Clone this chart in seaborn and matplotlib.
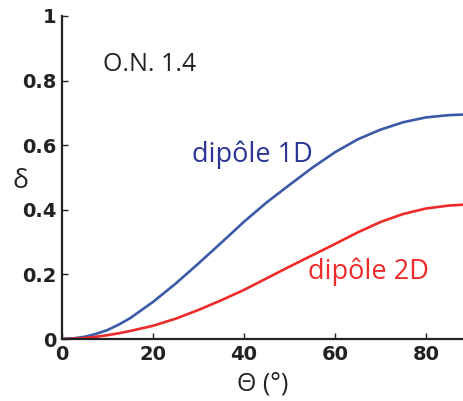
import numpy as np
import pandas as pd
import matplotlib
matplotlib.use("Agg")
import matplotlib.pyplot as plt
import seaborn as sns

# angles (deg) et valeurs
theta = [0, 2.5, 5, 7.5, 10, 12.5, 15, 20, 25, 30, 35, 40, 45, 50, 55, 60,
         65, 70, 75, 80, 85, 88.4]
delta_1d = [0, 0.002, 0.007, 0.016, 0.028, 0.045, 0.065, 0.115, 0.172, 0.234,
            0.298, 0.363, 0.423, 0.477, 0.530, 0.578, 0.618, 0.648, 0.671,
            0.686, 0.693, 0.695]
delta_2d = [0, 0.001, 0.003, 0.007, 0.012, 0.018, 0.025, 0.041, 0.063, 0.090,
            0.120, 0.152, 0.188, 0.224, 0.259, 0.294, 0.330, 0.362, 0.387,
            0.404, 0.413, 0.416]
yticks = [0, 0.2, 0.4, 0.6, 0.8, 1]
ytick_labels = ["0", "0.2", "0.4", "0.6", "0.8", "1"]
xticks = [0, 20, 40, 60, 80]

df = pd.DataFrame({
    "theta": theta * 2,
    "delta": delta_1d + delta_2d,
    "serie": ["1D"] * len(theta) + ["2D"] * len(theta),
})

sns.set_style("ticks")
plt.rcParams["font.family"] = ["Open Sans", "DejaVu Sans"]

fig = plt.figure(figsize=(4.64, 4.01), dpi=100)
ax = fig.add_axes([0.134, 0.1546, 0.866, 0.8055])

sns.lineplot(data=df, x="theta", y="delta", hue="serie",
             palette={"1D": "#3a5aa8", "2D": "#ee2b2b"},
             linewidth=1.9, legend=False, ax=ax)

ax.set_xlim(0, 88.4)
ax.set_ylim(0, 1)
ax.set_xticks(xticks)
ax.set_yticks(yticks)
ax.set_yticklabels(ytick_labels)
ax.tick_params(direction="in", length=4, width=1, labelsize=14, colors="#222222",
               pad=4)
for lab in ax.get_xticklabels() + ax.get_yticklabels():
    lab.set_family("DejaVu Sans")
    lab.set_fontweight("bold")
ax.spines["top"].set_visible(False)
ax.spines["right"].set_visible(False)
for s in ["left", "bottom"]:
    ax.spines[s].set_linewidth(1.6)
    ax.spines[s].set_color("#222222")

ax.set_xlabel("Θ (°)", fontsize=18, color="#222222", labelpad=6)
ax.set_ylabel("δ", fontsize=19, color="#222222", rotation=0)
ax.yaxis.set_label_coords(-0.105, 0.45)

ax.text(9, 0.85, "O.N. 1.4", fontsize=18, color="#222222", va="center")
ax.text(28.5, 0.57, "dipôle 1D", fontsize=19.5, color="#2b3595", va="center")
ax.text(54, 0.207, "dipôle 2D", fontsize=19.5, color="#ee2b2b", va="center")

fig.savefig("out.png", dpi=100)
